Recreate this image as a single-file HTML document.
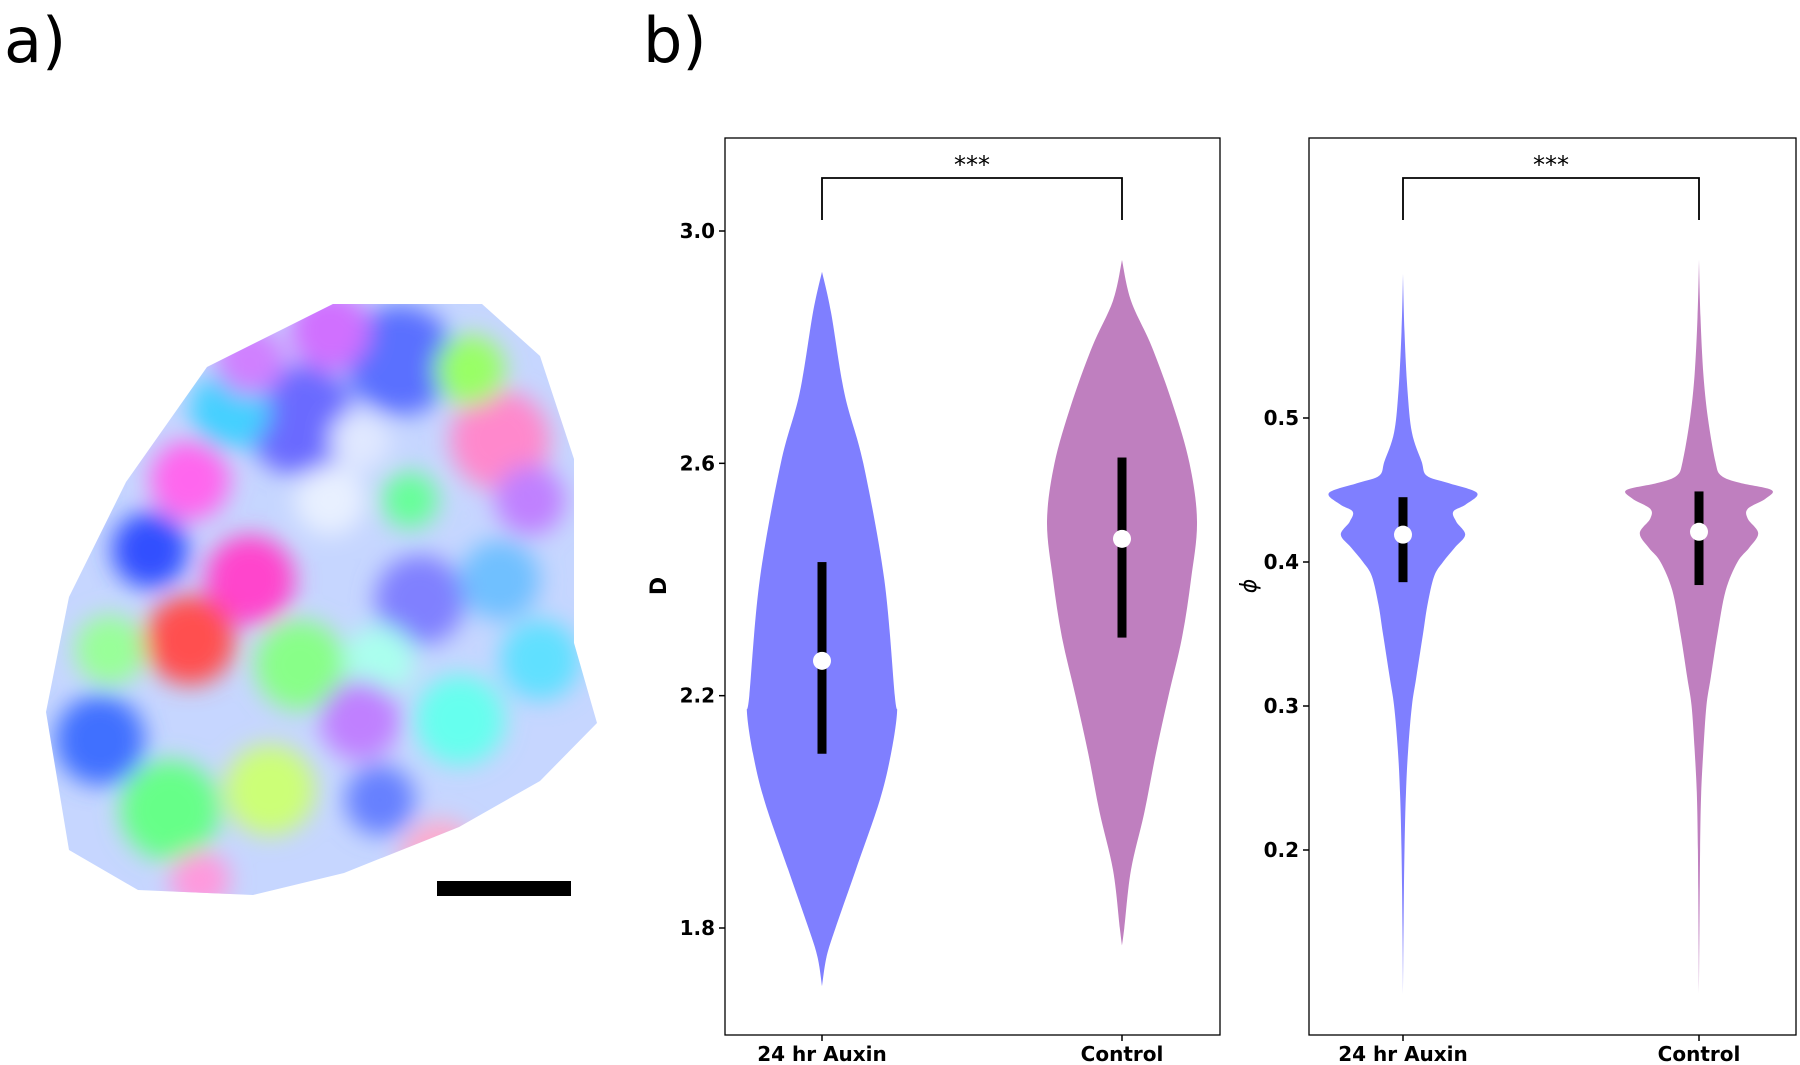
<!DOCTYPE html>
<html><head><meta charset="utf-8">
<style>
html,body{margin:0;padding:0;background:#fff;}
svg{display:block;font-family:"DejaVu Sans","Liberation Sans",sans-serif;}
</style></head>
<body>
<svg id="fig" width="1800" height="1065" viewBox="0 0 1800 1065" xmlns="http://www.w3.org/2000/svg">
<defs>
<clipPath id="blobclip"><polygon points="46,712 69,597 126,482 207,367 333,304 482,304 540,356 574,459 574,643 597,723 540,781 459,827 344,873 253,895 138,890 69,850"/></clipPath>
<filter id="blur" x="-20%" y="-20%" width="140%" height="140%"><feGaussianBlur stdDeviation="12"/></filter>
</defs>
<text x="4" y="62" font-size="62" font-family="DejaVu Sans, sans-serif">a)</text>
<text x="643" y="62" font-size="62" font-family="DejaVu Sans, sans-serif">b)</text>
<g clip-path="url(#blobclip)">
<rect x="40" y="300" width="560" height="600" fill="#c6d6ff"/>
<g filter="url(#blur)">
<circle cx="400" cy="360" r="55" fill="#5a70ff"/>
<circle cx="330" cy="330" r="40" fill="#d070ff"/>
<circle cx="300" cy="420" r="55" fill="#6a6aff"/>
<circle cx="230" cy="410" r="40" fill="#44d0ff"/>
<circle cx="250" cy="360" r="35" fill="#d080ff"/>
<circle cx="190" cy="480" r="40" fill="#ff66ee"/>
<circle cx="150" cy="550" r="38" fill="#3050ff"/>
<circle cx="250" cy="580" r="45" fill="#ff44cc"/>
<circle cx="190" cy="640" r="45" fill="#ff5050"/>
<circle cx="500" cy="440" r="50" fill="#ff88cc"/>
<circle cx="470" cy="370" r="35" fill="#99ff66"/>
<circle cx="530" cy="500" r="35" fill="#c080ff"/>
<circle cx="410" cy="500" r="28" fill="#66ff99"/>
<circle cx="420" cy="600" r="45" fill="#8080ff"/>
<circle cx="500" cy="580" r="40" fill="#70c0ff"/>
<circle cx="540" cy="660" r="40" fill="#60e0ff"/>
<circle cx="300" cy="665" r="45" fill="#88ff88"/>
<circle cx="380" cy="660" r="35" fill="#aaffee"/>
<circle cx="100" cy="740" r="45" fill="#4070ff"/>
<circle cx="110" cy="650" r="35" fill="#99ff99"/>
<circle cx="170" cy="810" r="50" fill="#66ff88"/>
<circle cx="270" cy="790" r="45" fill="#ccff77"/>
<circle cx="360" cy="720" r="40" fill="#c080ff"/>
<circle cx="460" cy="720" r="45" fill="#66ffee"/>
<circle cx="380" cy="800" r="35" fill="#6680ff"/>
<circle cx="200" cy="880" r="30" fill="#ff99dd"/>
<circle cx="360" cy="440" r="30" fill="#e0e8ff"/>
<circle cx="330" cy="500" r="35" fill="#e8f0ff"/>
<circle cx="440" cy="860" r="40" fill="#ffaacc"/>
</g>
</g>
<rect x="437" y="881" width="134" height="15" fill="#000"/>
<g id="chart"></g>
</svg>
<script>
const categories = ["24 hr Auxin", "Control"];
const dTicks = [1.8, 2.2, 2.6, 3.0];
const phiTicks = [0.2, 0.3, 0.4, 0.5];
const dAuxinY = [2.93,2.86,2.72,2.6,2.4,2.2,2.17,2.1,2.02,1.9,1.8,1.75,1.7];
const dAuxinW = [0,0.12,0.3,0.55,0.83,0.97,1.0,0.92,0.77,0.45,0.18,0.06,0];
const dControlY = [2.95,2.88,2.8,2.7,2.6,2.5,2.4,2.3,2.2,2.1,2.0,1.9,1.8,1.77];
const dControlW = [0,0.12,0.4,0.68,0.9,1.0,0.92,0.8,0.62,0.45,0.3,0.12,0.03,0];
const phiAuxinY = [0.6,0.56,0.52,0.49,0.47,0.46,0.455,0.448,0.44,0.435,0.428,0.419,0.41,0.40,0.39,0.37,0.35,0.32,0.30,0.27,0.24,0.2,0.15,0.1];
const phiAuxinW = [0,0.02,0.06,0.12,0.25,0.32,0.6,1.0,0.85,0.68,0.72,0.84,0.7,0.54,0.42,0.33,0.27,0.18,0.12,0.07,0.04,0.02,0.008,0];
const phiControlY = [0.61,0.57,0.53,0.5,0.47,0.46,0.455,0.45,0.444,0.437,0.43,0.42,0.41,0.40,0.38,0.35,0.32,0.30,0.27,0.24,0.2,0.1];
const phiControlW = [0,0.02,0.06,0.12,0.22,0.3,0.55,0.98,0.9,0.66,0.66,0.8,0.68,0.52,0.36,0.25,0.16,0.1,0.06,0.03,0.015,0];
const dMedian = [2.26, 2.47];
const dQ1 = [2.10, 2.30];
const dQ3 = [2.43, 2.61];
const phiMedian = [0.419, 0.421];
const phiQ1 = [0.386, 0.384];
const phiQ3 = [0.445, 0.449];
const sigLabel = "***";

const NS="http://www.w3.org/2000/svg";
const g=document.getElementById('chart');
function mk(tag,attrs,parent){const e=document.createElementNS(NS,tag);for(const k in attrs)e.setAttribute(k,attrs[k]);(parent||g).appendChild(e);return e;}
const colors=["#7f7fff","#bf7fbf"];

function smoothPath(pts){
  // Catmull-Rom to cubic bezier
  let d='M'+pts[0][0].toFixed(1)+','+pts[0][1].toFixed(1);
  for(let i=0;i<pts.length-1;i++){
    const p0=pts[Math.max(0,i-1)],p1=pts[i],p2=pts[i+1],p3=pts[Math.min(pts.length-1,i+2)];
    const c1=[p1[0]+(p2[0]-p0[0])/6,p1[1]+(p2[1]-p0[1])/6];
    const c2=[p2[0]-(p3[0]-p1[0])/6,p2[1]-(p3[1]-p1[1])/6];
    d+=` C${c1[0].toFixed(1)},${c1[1].toFixed(1)} ${c2[0].toFixed(1)},${c2[1].toFixed(1)} ${p2[0].toFixed(1)},${p2[1].toFixed(1)}`;
  }
  return d;
}

function panel(p){
  const yS=v=>p.y0+(p.v0-v)*p.pxPer;
  const xS=i=>p.cx[i];
  const fr=mk('rect',{x:p.left,y:138,width:p.right-p.left,height:897,fill:'none',stroke:'#000','stroke-width':1.3});
  
  
  p.ticks.forEach(t=>{
    const y=yS(t);
    const tl=mk('line',{x1:p.left-6,x2:p.left,y1:y,y2:y,stroke:'#000','stroke-width':1.5});
    
    
    const tx=mk('text',{x:p.left-10,y:y+7,'text-anchor':'end','font-size':20,'font-weight':'bold'});
    tx.textContent=t.toFixed(1);
    
    
  });
  categories.forEach((c,i)=>{
    const tl=mk('line',{x1:xS(i),x2:xS(i),y1:1035,y2:1041,stroke:'#000','stroke-width':1.5});
    
    
    const tx=mk('text',{x:xS(i),y:1061,'text-anchor':'middle','font-size':20,'font-weight':'bold'});
    tx.textContent=c;
    
    
  });
  p.series.forEach((s,i)=>{
    const cx=xS(i);
    const right=s.y.map((v,k)=>[cx+s.w[k]*p.maxW,yS(v)]);
    const left=s.y.map((v,k)=>[cx-s.w[k]*p.maxW,yS(v)]).reverse();
    const vp=mk('path',{d:smoothPath(right)+' L'+smoothPath(left).slice(1)+' Z',fill:colors[i]});
    
    
    const bx=mk('rect',{x:cx-4.5,y:yS(p.q3[i]),width:9,height:yS(p.q1[i])-yS(p.q3[i]),fill:'#000'});
    
    
    const md=mk('circle',{cx:cx,cy:yS(p.med[i]),r:9,fill:'#fff'});
    
    
  });
  const br=mk('path',{d:`M${xS(0)},220 V178 H${xS(1)} V220`,fill:'none',stroke:'#000','stroke-width':1.8});
  
  
  const st=mk('text',{x:(xS(0)+xS(1))/2,y:173,'text-anchor':'middle','font-size':24});
  st.textContent=sigLabel;
  
  
  const yl=mk('text',{x:0,y:0,'text-anchor':'middle','font-size':p.labelSize,'font-weight':p.labelWeight,'font-style':p.labelStyle,transform:`translate(${p.labelX},${p.labelY}) rotate(-90)`});
  yl.textContent=p.label;
  
  
}
panel({name:'d-panel',left:725,right:1220,cx:[822,1122],y0:231,v0:3.0,pxPer:697/1.2,maxW:75,ticks:dTicks,
  series:[{y:dAuxinY,w:dAuxinW},{y:dControlY,w:dControlW}],med:dMedian,q1:dQ1,q3:dQ3,
  label:'D',labelX:666,labelY:586,labelSize:22,labelWeight:'bold',labelStyle:'normal'});
panel({name:'phi-panel',left:1309,right:1796,cx:[1403,1699],y0:418,v0:0.5,pxPer:1440,maxW:74,ticks:phiTicks,
  series:[{y:phiAuxinY,w:phiAuxinW},{y:phiControlY,w:phiControlW}],med:phiMedian,q1:phiQ1,q3:phiQ3,
  label:'ϕ',labelX:1256,labelY:586,labelSize:22,labelWeight:'normal',labelStyle:'italic'});
</script>
</body></html>
